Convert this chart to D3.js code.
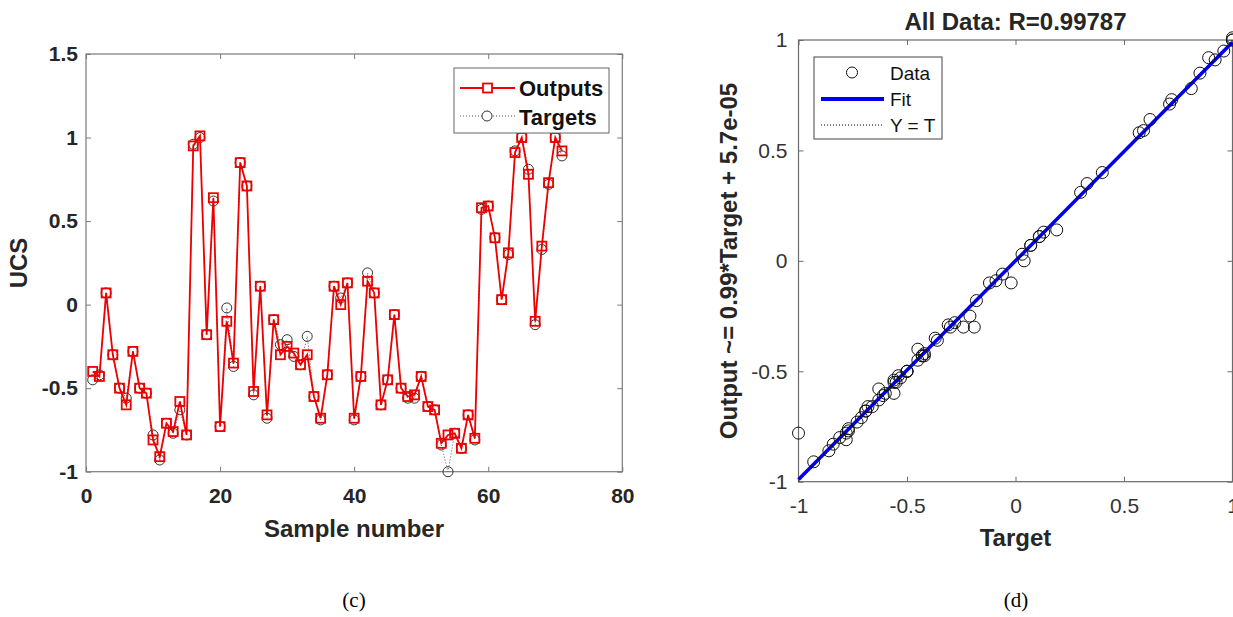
<!DOCTYPE html>
<html><head><meta charset="utf-8">
<script src="https://cdn.jsdelivr.net/npm/d3@7"></script>
<style>
body{margin:0;background:#fff}
svg{display:block}
text{font-family:"Liberation Sans",Arial,sans-serif}
</style>
</head><body>
<svg id="chart" width="1233" height="617"></svg>
<script>
// ---------- data ----------
const sampleNumbers = d3.range(1, 72);
const outputs = [
  -0.40,-0.43,0.07,-0.30,-0.50,-0.60,-0.28,-0.50,-0.53,-0.81,
  -0.91,-0.71,-0.76,-0.58,-0.78,0.95,1.01,-0.18,0.64,-0.73,
  -0.10,-0.35,0.85,0.71,-0.52,0.11,-0.66,-0.09,-0.30,-0.25,
  -0.29,-0.36,-0.30,-0.55,-0.68,-0.42,0.11,0.00,0.13,-0.68,
  -0.43,0.14,0.07,-0.60,-0.45,-0.06,-0.50,-0.55,-0.54,-0.43,
  -0.61,-0.63,-0.83,-0.78,-0.77,-0.86,-0.66,-0.80,0.58,0.59,
  0.40,0.03,0.31,0.91,1.00,0.78,-0.10,0.35,0.73,1.00,0.92
];
const targets = [
  -0.45,-0.42,0.07,-0.30,-0.50,-0.56,-0.28,-0.50,-0.53,-0.78,
  -0.93,-0.71,-0.77,-0.63,-0.78,0.96,1.00,-0.18,0.62,-0.73,
  -0.02,-0.37,0.85,0.71,-0.54,0.11,-0.68,-0.09,-0.24,-0.21,
  -0.31,-0.36,-0.19,-0.55,-0.69,-0.42,0.11,0.04,0.13,-0.69,
  -0.43,0.19,0.07,-0.60,-0.45,-0.06,-0.50,-0.56,-0.56,-0.43,
  -0.61,-0.63,-0.84,-1.00,-0.77,-0.86,-0.66,-0.81,0.57,0.59,
  0.40,0.03,0.30,0.92,1.00,0.81,-0.12,0.33,0.72,1.00,0.89
];
const leftXTicks = [0, 20, 40, 60, 80];
const leftYTicks = [-1, -0.5, 0, 0.5, 1, 1.5];
const rightXTicks = [-1, -0.5, 0, 0.5, 1];
const rightYTicks = [-1, -0.5, 0, 0.5, 1];
const fitSlope = 0.99;
const fitIntercept = 5.7e-05;
const rValue = "0.99787";
const leftLegend = ["Outputs", "Targets"];
const rightLegend = ["Data", "Fit", "Y = T"];
const captions = ["(c)", "(d)"];

const svg = d3.select("#chart");
const fmt = d => String(d);

function boxAxes(g, x, y, xt, yt, opts) {
  const [x0, x1] = x.range(), [y0, y1] = y.range();
  const ax = g.append("g").attr("transform", `translate(0,${y0})`)
    .call(d3.axisBottom(x).tickValues(xt).tickSize(-5).tickPadding(opts.xpad).tickFormat(fmt));
  const ay = g.append("g").attr("transform", `translate(${x0},0)`)
    .call(d3.axisLeft(y).tickValues(yt).tickSize(-5).tickPadding(opts.ypad).tickFormat(fmt));
  const at = g.append("g").attr("transform", `translate(0,${y1})`)
    .call(d3.axisTop(x).tickValues(xt).tickSize(-5).tickFormat(""));
  const ar = g.append("g").attr("transform", `translate(${x1},0)`)
    .call(d3.axisRight(y).tickValues(yt).tickSize(-5).tickFormat(""));
  [ax, ay, at, ar].forEach(a => {
    a.select(".domain").remove();
    a.selectAll(".tick line").attr("stroke", opts.axisColor);
    a.selectAll(".tick text").attr("fill", opts.textColor)
      .attr("font-size", opts.tickSize).attr("font-weight", opts.tickWeight)
      .attr("font-family", '"Liberation Sans",Arial,sans-serif');
  });
  g.append("rect").attr("x", x0).attr("y", y1).attr("width", x1 - x0).attr("height", y0 - y1)
    .attr("fill", "none").attr("stroke", opts.axisColor).attr("stroke-width", 1.2);
}

// ---------- left chart (c) ----------
const xL = d3.scaleLinear().domain([0, 80]).range([86, 622.3]);
const yL = d3.scaleLinear().domain([-1, 1.5]).range([471.7, 54]);
const gL = svg.append("g");
boxAxes(gL, xL, yL, leftXTicks, leftYTicks,
  {xpad: 16, ypad: 8, axisColor: "#7a7a7a", textColor: "#262626", tickSize: "21px", tickWeight: "bold"});

const lineL = d3.line().x((d, i) => xL(sampleNumbers[i])).y(d => yL(d));
gL.append("path").datum(targets).attr("d", lineL).attr("fill", "none")
  .attr("stroke", "#555").attr("stroke-width", 1).attr("stroke-dasharray", "1,2");
gL.selectAll("circle.t").data(targets).join("circle").attr("class", "t")
  .attr("cx", (d, i) => xL(sampleNumbers[i])).attr("cy", d => yL(d)).attr("r", 5)
  .attr("fill", "none").attr("stroke", "#333").attr("stroke-width", 1);
gL.append("path").datum(outputs).attr("d", lineL).attr("fill", "none")
  .attr("stroke", "#ee0000").attr("stroke-width", 1.8);
gL.selectAll("rect.o").data(outputs).join("rect").attr("class", "o")
  .attr("x", (d, i) => xL(sampleNumbers[i]) - 4.5).attr("y", d => yL(d) - 4.5)
  .attr("width", 9).attr("height", 9)
  .attr("fill", "none").attr("stroke", "#ee0000").attr("stroke-width", 1.8);

gL.append("text").attr("x", 354).attr("y", 537).attr("text-anchor", "middle")
  .attr("font-size", "24px").attr("font-weight", "bold").attr("fill", "#262626").text("Sample number");
gL.append("text").attr("transform", "translate(27,263) rotate(-90)").attr("text-anchor", "middle")
  .attr("font-size", "24px").attr("font-weight", "bold").attr("fill", "#262626").text("UCS");

// left legend
const lgL = gL.append("g");
lgL.append("rect").attr("x", 454).attr("y", 68).attr("width", 155).attr("height", 65)
  .attr("fill", "#fff").attr("stroke", "#666").attr("stroke-width", 1);
lgL.append("line").attr("x1", 460).attr("x2", 515).attr("y1", 88).attr("y2", 88)
  .attr("stroke", "#ee0000").attr("stroke-width", 1.8);
lgL.append("rect").attr("x", 483).attr("y", 83.5).attr("width", 9).attr("height", 9)
  .attr("fill", "#fff").attr("stroke", "#ee0000").attr("stroke-width", 1.8);
lgL.append("line").attr("x1", 460).attr("x2", 515).attr("y1", 116).attr("y2", 116)
  .attr("stroke", "#555").attr("stroke-width", 1).attr("stroke-dasharray", "1,2");
lgL.append("circle").attr("cx", 487).attr("cy", 116).attr("r", 5)
  .attr("fill", "#fff").attr("stroke", "#333");
lgL.selectAll("text").data(leftLegend).join("text")
  .attr("x", 519).attr("y", (d, i) => 96 + i * 28.5)
  .attr("font-size", "22px").attr("font-weight", "bold").attr("fill", "#111").text(d => d);

// ---------- right chart (d) ----------
const xR = d3.scaleLinear().domain([-1, 1]).range([798.5, 1232.5]);
const yR = d3.scaleLinear().domain([-1, 1]).range([481.7, 40]);
const gR = svg.append("g");
boxAxes(gR, xR, yR, rightXTicks, rightYTicks,
  {xpad: 16, ypad: 11, axisColor: "#6a6a6a", textColor: "#333", tickSize: "21px", tickWeight: "normal"});

gR.append("line").attr("x1", xR(-1)).attr("y1", yR(-1)).attr("x2", xR(1)).attr("y2", yR(1))
  .attr("stroke", "#000").attr("stroke-width", 1).attr("stroke-dasharray", "1,2");
gR.append("line").attr("x1", xR(-1)).attr("y1", yR(fitSlope * -1 + fitIntercept))
  .attr("x2", xR(1)).attr("y2", yR(fitSlope * 1 + fitIntercept))
  .attr("stroke", "#0000ee").attr("stroke-width", 3.5);
gR.selectAll("circle.d").data(targets).join("circle").attr("class", "d")
  .attr("cx", d => xR(d)).attr("cy", (d, i) => yR(outputs[i])).attr("r", 6)
  .attr("fill", "none").attr("stroke", "#111").attr("stroke-width", 1);

gR.append("text").attr("x", 1015.5).attr("y", 30).attr("text-anchor", "middle")
  .attr("font-size", "24px").attr("font-weight", "bold").attr("fill", "#262626")
  .text(`All Data: R=${rValue}`);
gR.append("text").attr("x", 1015.5).attr("y", 546).attr("text-anchor", "middle")
  .attr("font-size", "24px").attr("font-weight", "bold").attr("fill", "#262626").text("Target");
gR.append("text").attr("transform", "translate(737,261) rotate(-90)").attr("text-anchor", "middle")
  .attr("font-size", "24px").attr("font-weight", "bold").attr("fill", "#262626")
  .text(`Output ~= ${fitSlope}*Target + ${fitIntercept.toExponential(1).replace("e-5", "e-05")}`);

// right legend
const lgR = gR.append("g");
lgR.append("rect").attr("x", 814).attr("y", 57).attr("width", 128).attr("height", 82)
  .attr("fill", "#fff").attr("stroke", "#444").attr("stroke-width", 1);
lgR.append("circle").attr("cx", 852).attr("cy", 72.5).attr("r", 5.5).attr("fill", "none").attr("stroke", "#111");
lgR.append("line").attr("x1", 821).attr("x2", 884).attr("y1", 99).attr("y2", 99)
  .attr("stroke", "#0000ee").attr("stroke-width", 4);
lgR.append("line").attr("x1", 821).attr("x2", 884).attr("y1", 125).attr("y2", 125)
  .attr("stroke", "#000").attr("stroke-width", 1).attr("stroke-dasharray", "1,2");
lgR.selectAll("text").data(rightLegend).join("text")
  .attr("x", 890).attr("y", (d, i) => 80 + i * 26)
  .attr("font-size", "19px").attr("fill", "#111").text(d => d);

// captions
svg.selectAll("text.cap").data(captions).join("text").attr("class", "cap")
  .attr("x", (d, i) => i === 0 ? 354 : 1016).attr("y", 607).attr("text-anchor", "middle")
  .style("font-family", '"Liberation Serif","Times New Roman",serif')
  .attr("font-size", "21px").attr("fill", "#000").text(d => d);
</script>
</body></html>
